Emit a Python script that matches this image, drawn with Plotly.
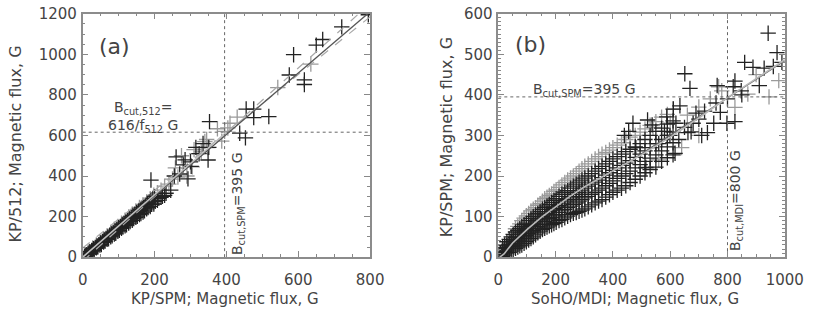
import plotly.graph_objects as go

# ---------------- Panel (a) data: KP/SPM vs KP/512 ----------------
xa_dark = [5, 10, 15, 20, 25, 30, 35, 40, 45, 50, 55, 60, 65, 70, 75, 80, 85, 90, 95, 100,
           105, 110, 115, 120, 125, 130, 135, 140, 145, 150, 155, 160, 165, 170, 175, 180, 185, 190, 195, 200,
           12, 22, 32, 42, 52, 62, 72, 82, 92, 102, 112, 122, 132, 142, 152, 162, 172, 182, 192, 202, 212, 222, 232,
           8, 18, 28, 38, 48, 58, 68, 78, 88, 98, 108, 118, 128, 138, 148, 158, 168, 178, 188, 198, 208, 218, 228,
           190, 245, 255, 260, 270, 280, 285, 293, 300, 302, 315, 324, 335, 349, 351, 353,
           437, 453, 455, 476, 476, 518, 575, 587, 617, 617, 650, 668, 721, 795]
ya_dark = [5, 12, 20, 27, 33, 42, 48, 55, 62, 70, 78, 85, 92, 100, 108, 115, 122, 130, 138, 145,
           152, 160, 168, 175, 182, 190, 198, 205, 212, 220, 228, 235, 243, 250, 258, 265, 272, 280, 290, 298,
           8, 20, 35, 50, 62, 78, 90, 105, 118, 132, 148, 160, 175, 190, 202, 215, 228, 245, 260, 275, 290, 300, 315,
           6, 18, 32, 46, 60, 74, 88, 100, 114, 128, 142, 155, 168, 182, 196, 210, 222, 238, 250, 262, 280, 295, 305,
           380, 330, 400, 494, 410, 455, 480, 386, 470, 448, 541, 510, 560, 479, 541, 668,
           611, 588, 730, 730, 688, 693, 898, 998, 874, 851, 1045, 1073, 1135, 1195]
xa_gray = [18, 28, 38, 48, 58, 68, 78, 88, 98, 108, 118, 128, 138, 148, 158, 168, 178, 188, 198, 208,
           218, 228, 240, 250, 258, 265, 275, 290, 305, 310, 318, 330, 340, 345, 348, 375, 387, 395, 404, 410,
           430, 543, 635]
ya_gray = [30, 45, 60, 75, 90, 105, 122, 138, 152, 168, 182, 198, 212, 228, 245, 258, 272, 288, 305, 318,
           330, 350, 360, 385, 440, 395, 500, 400, 445, 530, 510, 520, 570, 580, 540, 633, 572, 620, 637, 660,
           690, 836, 952]
fit_a_x = [0, 800]
fit_a_y = [0, 1210]
mean_a_x = [0, 400]
mean_a_y = [0, 616]
dash_a_x = [0, 800]
dash_a_hi = [-20, 1250]
dash_a_lo = [45, 1185]
cut_a_x = 395      # B_cut,SPM
cut_a_y = 616      # B_cut,512

# ---------------- Panel (b) data: SoHO/MDI vs KP/SPM ----------------
xb_dark = [8, 8, 8,
           15, 15, 15, 15, 22, 22, 22, 22, 30, 30, 30, 30, 38, 38, 38, 38, 45, 45, 45, 45, 52, 52, 52, 52,
           60, 60, 60, 60, 68, 68, 68, 68, 75, 75, 75, 75, 82, 82, 82, 82, 90, 90, 90, 90,
           98, 98, 98, 98, 106, 106, 106, 106, 114, 114, 114, 114, 122, 122, 122, 122, 130, 130, 130, 130,
           138, 138, 138, 138, 146, 146, 146, 146, 154, 154, 154, 154, 162, 162, 162, 162, 170, 170, 170, 170,
           178, 178, 178, 178, 186, 186, 186, 186, 194, 194, 194, 194, 202, 202, 202, 202, 212, 212, 212, 212,
           222, 222, 222, 222, 232, 232, 232, 232, 242, 242, 242, 242, 252, 252, 252, 252, 262, 262, 262, 262,
           272, 272, 272, 272, 282, 282, 282, 282, 292, 292, 292, 292, 302, 302, 302, 302, 314, 314, 314, 314,
           326, 326, 326, 326, 338, 338, 338, 338, 350, 350, 350, 350, 362, 362, 362, 362, 375, 375, 375, 375,
           388, 388, 388, 388, 400, 400, 400, 400, 415, 415, 415, 415, 430, 430, 430, 430, 445, 445, 445, 445,
           460, 460, 460, 460, 478, 478, 478, 478, 495, 495, 495, 495, 512, 512, 512, 512, 530, 530, 530, 530,
           550, 550, 550, 550, 570, 570, 570, 570, 590, 590, 590, 590, 610, 610, 610, 610,
           515, 521, 537, 588, 599, 617, 611, 634, 651, 669, 662, 673, 730, 752, 775, 798, 826, 764, 848, 860,
           889, 928, 942, 973, 911, 826, 700, 720, 680, 650, 630, 560, 580, 620, 690, 710, 760, 800, 820, 850,
           960, 990, 470, 480, 440, 455]
yb_dark = [0, 6, 12,
           2, 10, 18, 24, 5, 14, 22, 30, 8, 18, 28, 38, 12, 22, 32, 44, 15, 26, 38, 50, 18, 30, 42, 56,
           22, 34, 48, 62, 25, 38, 52, 66, 28, 42, 56, 70, 30, 46, 60, 75, 34, 50, 64, 80,
           38, 54, 68, 84, 42, 58, 74, 90, 46, 62, 78, 95, 50, 66, 82, 100, 55, 70, 87, 104,
           60, 75, 92, 108, 64, 80, 96, 112, 68, 84, 100, 118, 71, 88, 104, 122, 74, 92, 108, 126,
           77, 95, 112, 130, 80, 98, 116, 135, 83, 102, 120, 140, 86, 105, 124, 144, 90, 110, 128, 150,
           93, 114, 133, 155, 97, 118, 138, 160, 101, 122, 142, 164, 105, 126, 146, 170, 108, 130, 150, 175,
           110, 134, 155, 180, 113, 138, 160, 185, 116, 142, 165, 190, 119, 146, 170, 195, 124, 150, 175, 200,
           129, 155, 180, 206, 134, 160, 185, 212, 138, 165, 190, 218, 142, 170, 196, 224, 148, 176, 202, 230,
           154, 182, 208, 236, 160, 188, 214, 242, 165, 194, 220, 248, 170, 200, 226, 254, 176, 206, 232, 260,
           184, 212, 238, 266, 192, 220, 246, 272, 200, 228, 254, 280, 208, 236, 262, 290, 216, 244, 270, 300,
           222, 252, 280, 310, 236, 262, 290, 318, 245, 272, 300, 328, 252, 282, 308, 336,
           221, 338, 326, 346, 300, 256, 365, 373, 452, 416, 307, 309, 307, 330, 357, 330, 334, 423, 410, 480,
           468, 466, 552, 504, 423, 434, 340, 360, 330, 320, 290, 280, 310, 330, 355, 300, 380, 390, 420, 400,
           470, 480, 330, 270, 300, 310]
xb_gray = [60, 68, 75, 82, 90, 98, 106, 114, 122, 130, 138, 146, 154, 162, 170, 178, 186, 194, 202, 212,
           222, 232, 242, 252, 262, 272, 282, 292, 302, 314, 326, 338, 350, 362, 375, 388, 400, 415, 430, 445,
           460, 478, 495, 512, 530, 550, 570, 590, 610,
           769, 826, 871, 945, 979, 540, 600, 660, 700, 740, 780, 640, 560, 700, 900]
yb_gray = [70, 76, 82, 90, 96, 102, 108, 114, 118, 122, 128, 132, 138, 144, 148, 152, 156, 162, 166, 172,
           178, 184, 190, 195, 200, 206, 212, 218, 224, 230, 236, 242, 248, 254, 258, 264, 270, 276, 282, 290,
           296, 300, 308, 316, 325, 334, 345, 352, 365,
           420, 369, 402, 395, 435, 320, 330, 350, 370, 390, 410, 270, 240, 300, 450]
fit_b_x = [5, 20, 50, 100, 150, 200, 250, 300, 350, 400, 450, 500, 600, 700, 800, 900, 1000]
fit_b_y = [0, 8, 35, 68, 98, 125, 150, 173, 193, 212, 232, 252, 296, 343, 393, 440, 487]
lin_b_x = [450, 1000]
lin_b_y = [232, 484]
cut_b_x = 800      # B_cut,MDI
cut_b_y = 395      # B_cut,SPM

# ---------------- styling ----------------
FONT = "DejaVu Sans"
TXT = "#444444"
DARK = "#222222"
GRAY = "#9a9a9a"
W, H = 830, 319

fig = go.Figure()

def cross(x, y, color, xa, ya):
    fig.add_trace(go.Scatter(x=x, y=y, mode="markers", xaxis=xa, yaxis=ya,
                             marker=dict(symbol="cross-thin", size=11,
                                         line=dict(color=color, width=1.3)),
                             showlegend=False, hoverinfo="skip"))

def line(x, y, xa, ya, color, width=1.2, dash="solid"):
    fig.add_trace(go.Scatter(x=x, y=y, mode="lines", xaxis=xa, yaxis=ya,
                             line=dict(color=color, width=width, dash=dash),
                             showlegend=False, hoverinfo="skip"))

# panel a
cross(xa_gray, ya_gray, GRAY, "x", "y")
cross(xa_dark, ya_dark, DARK, "x", "y")
line(dash_a_x, dash_a_hi, "x", "y", "#a8a8a8", 1.2, "dash")
line(dash_a_x, dash_a_lo, "x", "y", "#a8a8a8", 1.2, "dash")
line(fit_a_x, fit_a_y, "x", "y", "#555555", 1.3)
line(mean_a_x, mean_a_y, "x", "y", "#c0c0c0", 1.5)
line([cut_a_x, cut_a_x], [0, 1200], "x", "y", "#666666", 1, "dot")
line([0, 800], [cut_a_y, cut_a_y], "x", "y", "#666666", 1, "dot")

# panel b
cross(xb_gray, yb_gray, GRAY, "x2", "y2")
cross(xb_dark, yb_dark, DARK, "x2", "y2")
line(lin_b_x, lin_b_y, "x2", "y2", "#666666", 1.2)
line(fit_b_x, fit_b_y, "x2", "y2", "#b8b8b8", 1.6)
line([cut_b_x, cut_b_x], [0, 600], "x2", "y2", "#666666", 1, "dot")
line([0, 1000], [cut_b_y, cut_b_y], "x2", "y2", "#666666", 1, "dot")

def px2paper_x(p):
    return p / W

def py2paper_y(p):
    return 1 - p / H

axis_common = dict(showgrid=False, zeroline=False, ticks="inside", ticklen=6, tickwidth=1,
                   tickcolor="#888888", linecolor="#8c8c8c", linewidth=1.5, mirror="allticks",
                   showline=True, ticklabeloverflow="allow",
                   tickfont=dict(family=FONT, size=15, color=TXT))

fig.update_layout(
    width=W, height=H, autosize=False,
    margin=dict(l=0, r=0, t=0, b=0),
    paper_bgcolor="white", plot_bgcolor="white",
    font=dict(family=FONT, color=TXT),
    xaxis=dict(domain=[px2paper_x(80), px2paper_x(376)], range=[0, 800], tickvals=[0, 200, 400, 600, 800],
               minor=dict(dtick=50, ticks="inside", ticklen=3, tickcolor="#888888"),
               anchor="y", ticklabelstandoff=8, **axis_common),
    yaxis=dict(domain=[py2paper_y(263), py2paper_y(5)], range=[0, 1200],
               tickvals=[0, 200, 400, 600, 800, 1000, 1200],
               minor=dict(dtick=50, ticks="inside", ticklen=3, tickcolor="#888888"),
               anchor="x", ticklabelstandoff=1, **axis_common),
    xaxis2=dict(domain=[px2paper_x(508), px2paper_x(803)], range=[0, 1000],
                tickvals=[0, 200, 400, 600, 800, 1000],
                minor=dict(dtick=50, ticks="inside", ticklen=3, tickcolor="#888888"),
                anchor="y2", ticklabelstandoff=8, **axis_common),
    yaxis2=dict(domain=[py2paper_y(263), py2paper_y(5)], range=[0, 600],
                tickvals=[0, 100, 200, 300, 400, 500, 600],
                minor=dict(dtick=10, ticks="inside", ticklen=3, tickcolor="#888888"),
                anchor="x2", ticklabelstandoff=1, **axis_common),
)

ann = []
def text(t, x, y, xref, yref, size=15, angle=0, xanchor="center", yanchor="middle"):
    ann.append(dict(text=t, x=x, y=y, xref=xref, yref=yref, showarrow=False, textangle=angle,
                    xanchor=xanchor, yanchor=yanchor, font=dict(family=FONT, size=size, color=TXT)))

# axis titles
text("KP/SPM; Magnetic flux, G", px2paper_x(227), 0, "paper", "paper", 15, yanchor="bottom")
text("KP/512; Magnetic flux, G", px2paper_x(11), py2paper_y(143), "paper", "paper", 16, -90)
text("SoHO/MDI; Magnetic flux, G", px2paper_x(649), 0, "paper", "paper", 15, yanchor="bottom")
text("KP/SPM; Magnetic flux, G", px2paper_x(454), py2paper_y(136), "paper", "paper", 16, -90)

# panel labels and cut annotations
text("(a)", 89, 1037, "x", "y", 22)
text("(b)", 114, 524, "x2", "y2", 22)
text("B<sub>cut,512</sub>=<br>616/f<sub>512</sub> G", 168, 690, "x", "y", 14)
text("B<sub>cut,SPM</sub>=395 G", 434, 265, "x", "y", 14, -90)
text("B<sub>cut,SPM</sub>=395 G", 301, 411, "x2", "y2", 14)
text("B<sub>cut,MDI</sub>=800 G", 832, 140, "x2", "y2", 14, -90)
fig.update_layout(annotations=ann)

fig.write_html("out.html", post_script="document.body.style.margin='0';",
               config={"displayModeBar": False})
